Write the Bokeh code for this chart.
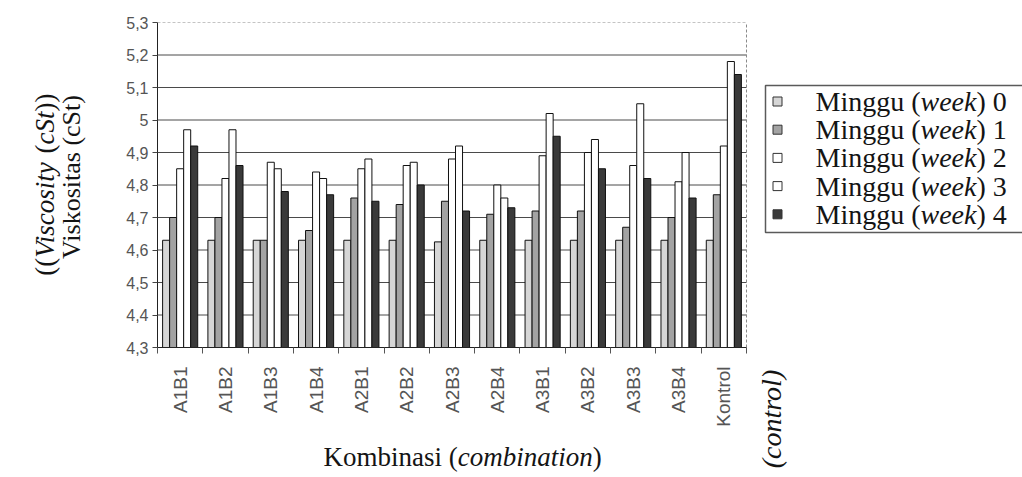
import math
from bokeh.plotting import figure
from bokeh.models import Range1d, FixedTicker, ColumnDataSource
from bokeh.core.properties import value
from bokeh.transform import dodge
from bokeh.embed import file_html
from bokeh.resources import INLINE

# ---------------- data ----------------
categories = ["A1B1", "A1B2", "A1B3", "A1B4", "A2B1", "A2B2", "A2B3",
              "A2B4", "A3B1", "A3B2", "A3B3", "A3B4", "Kontrol"]
week0 = [4.63, 4.63, 4.63, 4.63, 4.63, 4.63, 4.625, 4.63, 4.63, 4.63, 4.63, 4.63, 4.63]
week1 = [4.70, 4.70, 4.63, 4.66, 4.76, 4.74, 4.75, 4.71, 4.72, 4.72, 4.67, 4.70, 4.77]
week2 = [4.85, 4.82, 4.87, 4.84, 4.85, 4.86, 4.88, 4.80, 4.89, 4.90, 4.86, 4.81, 4.92]
week3 = [4.97, 4.97, 4.85, 4.82, 4.88, 4.87, 4.92, 4.76, 5.02, 4.94, 5.05, 4.90, 5.18]
week4 = [4.92, 4.86, 4.78, 4.77, 4.75, 4.80, 4.72, 4.73, 4.95, 4.85, 4.82, 4.76, 5.14]
week_numbers = ["0", "1", "2", "3", "4"]
y_ticks = [4.3, 4.4, 4.5, 4.6, 4.7, 4.8, 4.9, 5.0, 5.1, 5.2, 5.3]
y_tick_labels = ["4,3", "4,4", "4,5", "4,6", "4,7", "4,8", "4,9", "5", "5,1", "5,2", "5,3"]

y_title_1 = [("((", False), ("Viscosity", True), (" (", False), ("cSt", True), ("))", False)]
y_title_2 = [("Viskositas (cSt)", False)]
x_title = [("Kombinasi (", False), ("combination", True), (")", False)]
control_note = [("(control)", True)]
legend_word = "Minggu"
legend_word_en = "week"

# ---------------- styles / layout ----------------
fills = ["#d6d6d6", "#a3a3a3", "#ffffff", "#ffffff", "#3a3a3a"]
SERIF = "Liberation Serif"
SANS = "Liberation Sans"
W, H = 1022, 477
FRAME_L, FRAME_R_CAT, FRAME_T, FRAME_B = 157, 746, 22, 347   # canvas px
PXU = (FRAME_R_CAT - FRAME_L) / len(categories)
y_min, y_max = y_ticks[0], y_ticks[-1]
PYU = (FRAME_B - FRAME_T) / (y_max - y_min)
x_end = (W - FRAME_L) / PXU


def dx(px):
    return (px - FRAME_L) / PXU


def dy(py):
    return y_min + (FRAME_B - py) / PYU


REG = {' ': 250, '(': 333, ')': 333, 'K': 722, 'M': 889, 'S': 556, 'V': 722,
       'a': 444, 'b': 500, 'c': 444, 'g': 500, 'i': 278, 'k': 500, 'l': 278,
       'm': 778, 'n': 500, 'o': 500, 'r': 333, 's': 389, 't': 278, 'u': 500,
       'y': 500, 'e': 444, 'w': 722}
ITA = {' ': 250, 'c': 444, 'o': 500, 'm': 722, 'b': 500, 'i': 278, 'n': 500,
       'a': 500, 't': 278, 'w': 667, 'e': 444, 'k': 444, 'V': 611, 's': 389,
       'y': 444, 'S': 500, 'r': 389, 'l': 278, '(': 333, ')': 333}


def text_w(s, italic, size):
    tbl = ITA if italic else REG
    return sum(tbl.get(ch, 500) for ch in s) / 1000.0 * size


p = figure(width=W, height=H, output_backend="svg", toolbar_location=None,
           x_range=Range1d(0, x_end), y_range=Range1d(y_min, y_max),
           min_border_left=FRAME_L, min_border_right=0,
           min_border_top=FRAME_T, min_border_bottom=H - FRAME_B)
p.outline_line_color = None
p.background_fill_color = "white"
p.border_fill_color = "white"
p.xgrid.visible = False
p.ygrid.visible = False

n = len(categories)
xc = [i + 0.5 for i in range(n)]
src = ColumnDataSource(dict(cat=categories, xc=xc, w0=week0, w1=week1,
                            w2=week2, w3=week3, w4=week4))

# grid lines (behind bars)
grid_y = y_ticks[1:-1]
p.segment(x0=[0] * len(grid_y), x1=[n] * len(grid_y), y0=grid_y, y1=grid_y,
          line_color="#4a4a4a", line_width=1)
p.segment(x0=[0], x1=[n], y0=[y_max], y1=[y_max], line_color="#8a8a8a",
          line_width=1, line_dash="3 2")
p.segment(x0=[n], x1=[n], y0=[y_min], y1=[y_max], line_color="#8a8a8a",
          line_width=1, line_dash="3 2")

# bars
bw = 0.155
offsets = [-2 * bw, -bw, 0, bw, 2 * bw]
for k in range(5):
    p.vbar(x=dodge("xc", offsets[k], range=p.x_range), top="w%d" % k,
           bottom=y_min, width=bw, source=src, fill_color=fills[k],
           line_color="#111111", line_width=1)

# axes
xa = p.xaxis[0]
xa.ticker = FixedTicker(ticks=xc, minor_ticks=list(range(n + 1)))
xa.major_label_overrides = {xc[i]: categories[i] for i in range(n)}
xa.bounds = (0, n)
xa.major_tick_line_color = None
xa.major_tick_out = 0
xa.major_tick_in = 0
xa.minor_tick_in = 0
xa.minor_tick_out = 6
xa.minor_tick_line_color = "#555555"
xa.axis_line_color = "#222222"
xa.major_label_orientation = math.pi / 2
xa.major_label_standoff = 13
xa.major_label_text_font = SANS
xa.major_label_text_font_size = "19px"
xa.major_label_text_color = "#555555"

ya = p.yaxis[0]
ya.ticker = FixedTicker(ticks=y_ticks)
ya.major_label_overrides = {y_ticks[i]: y_tick_labels[i] for i in range(len(y_ticks))}
ya.major_tick_out = 5
ya.major_tick_in = 0
ya.minor_tick_line_color = None
ya.major_tick_line_color = "#444444"
ya.axis_line_color = "#222222"
ya.major_label_standoff = 4
ya.major_label_text_font = SANS
ya.major_label_text_font_size = "16px"
ya.major_label_text_color = "#555555"


def runs(parts, px, py, size, vertical=False):
    """Draw consecutive text runs starting at canvas position (px, py)."""
    pos = 0.0
    for txt, ital in parts:
        lead = len(txt) - len(txt.lstrip(" "))
        pos += text_w(" " * lead, ital, size)
        core = txt.strip(" ")
        trail = len(txt) - lead - len(core)
        if vertical:
            x, y, ang = dx(px), dy(py - pos), math.pi / 2
        else:
            x, y, ang = dx(px + pos), dy(py), 0
        p.text(x=[x], y=[y], text=[core], angle=ang, text_font=value(SERIF),
               text_font_size="%dpx" % size,
               text_font_style="italic" if ital else "normal",
               text_align="left", text_baseline="middle",
               text_color="#141414", level="overlay")
        pos += text_w(core, ital, size) + text_w(" " * trail, ital, size)
    return pos


def total(parts, size):
    return sum(text_w(t, i, size) for t, i in parts)


TS = 26
# y title (two rotated lines, right-aligned at the top)
top_y = 93
runs(y_title_1, 44, top_y + total(y_title_1, TS + 1), TS + 1, vertical=True)
runs(y_title_2, 71, top_y + total(y_title_2, TS), TS, vertical=True)
# x title
runs(x_title, 323, 456, TS + 1)
# (control)
runs(control_note, 771, 418 + total(control_note, TS + 2) / 2, TS + 2, vertical=True)

# legend
leg_rows = [101 + 28.2 * i for i in range(5)]
p.quad(left=[dx(765)], right=[dx(1040)], top=[dy(85)], bottom=[dy(232)],
       fill_color="white", line_color="#5a5a5a", line_width=1.5)
p.scatter(x=[dx(777)] * 5, y=[dy(r) for r in leg_rows], marker="square",
          size=9, fill_color=fills, line_color="#333333", line_width=1)
for i, wk in enumerate(week_numbers):
    runs([(legend_word + " (", False), (legend_word_en, True), (") " + wk, False)],
         815, leg_rows[i], 28)

open("out.html", "w").write(file_html(p, INLINE))
